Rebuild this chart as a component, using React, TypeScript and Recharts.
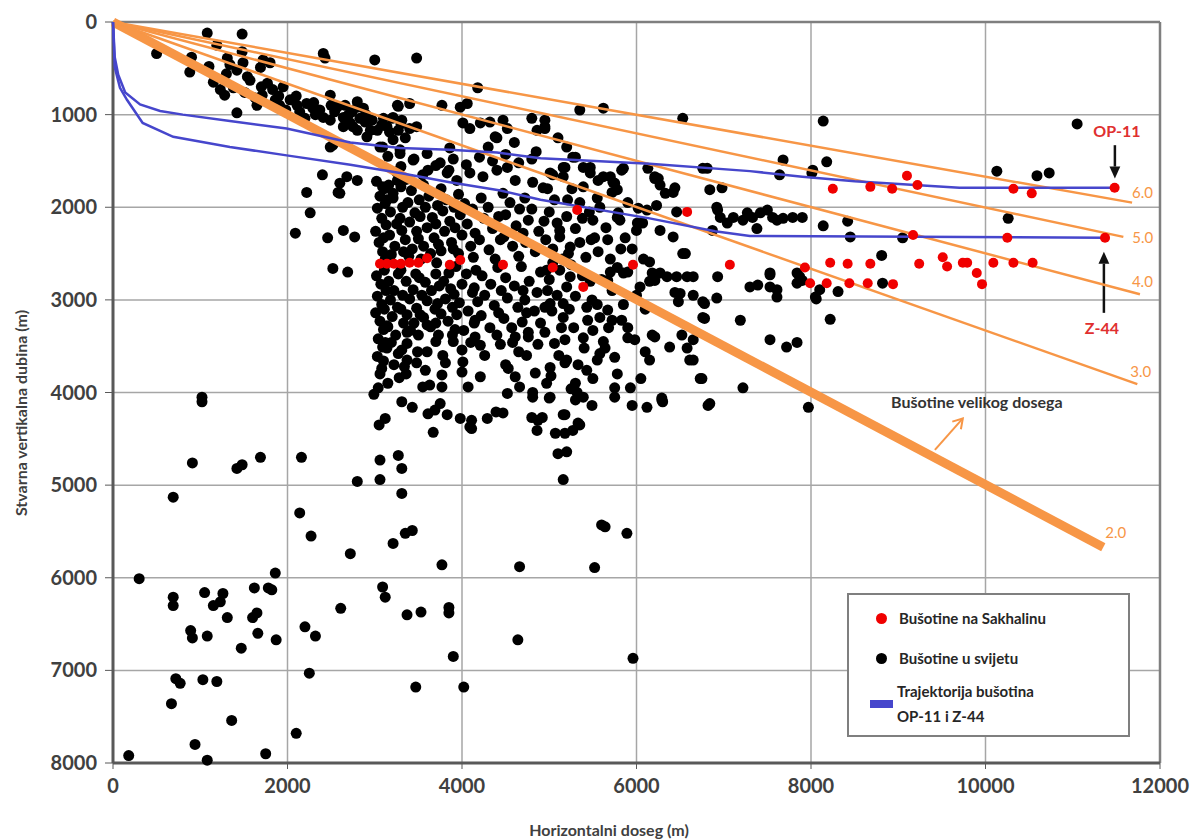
import { CartesianGrid, ReferenceDot, ReferenceLine, Scatter, ScatterChart, XAxis, YAxis } from 'recharts'

const xTicks = [0, 2000, 4000, 6000, 8000, 10000, 12000]
const yTicks = [0, 1000, 2000, 3000, 4000, 5000, 6000, 7000, 8000]

const ratioLabels = ['2.0', '3.0', '4.0', '5.0', '6.0']
const ratioEnds: [number, number][] = [
  [11350, 5670], [11740, 3910], [11770, 2940], [11580, 2320], [11680, 1950]
]

const op11Path: [number, number][] = [
  [0, 0], [20, 380], [60, 570], [140, 760], [310, 890], [540, 960], [800, 1000], [1340, 1070],
  [1990, 1150], [2720, 1300], [3290, 1360], [3860, 1380], [4400, 1410], [4900, 1470], [6150, 1530],
  [7300, 1610], [7900, 1670], [8500, 1720], [9700, 1790], [11480, 1790]
]

const z44Path: [number, number][] = [
  [0, 0], [20, 490], [80, 710], [160, 840], [340, 1090], [690, 1240], [1340, 1350], [1990, 1440],
  [2720, 1540], [3290, 1630], [3860, 1730], [4440, 1820], [4900, 1920], [6150, 2120], [6900, 2260],
  [7300, 2310], [11370, 2330]
]

const sakhalinWells: [number, number][] = [
  [3060, 2610], [3140, 2610], [3220, 2610], [3300, 2610], [3400, 2600], [3500, 2600], [3600, 2550],
  [3860, 2620], [3980, 2570], [4470, 2620], [5040, 2650], [5390, 2860], [5320, 2030], [5960, 2620],
  [6580, 2050], [7070, 2620], [7930, 2650], [7990, 2820], [8180, 2820], [8220, 2600], [8250, 1800],
  [8420, 2610], [8440, 2820], [8650, 2820], [8680, 2610], [8680, 1780], [8930, 1800], [8940, 2830],
  [9100, 1660], [9170, 2300], [9220, 1760], [9240, 2610], [9510, 2540], [9560, 2640], [9740, 2600],
  [9790, 2600], [9900, 2710], [9960, 2830], [10090, 2600], [10250, 2330], [10320, 2600], [10320, 1800],
  [10530, 1850], [10540, 2600], [11370, 2330], [11480, 1790]
]

const worldWells: [number, number][] = [
  [500, 340], [880, 540], [1080, 120], [1480, 130], [1150, 650], [1420, 980], [1650, 900], [1190, 250],
  [1310, 390], [1340, 460], [1420, 520], [1490, 440], [1540, 590], [1570, 630], [1480, 320], [1720, 410],
  [1800, 440], [1690, 490], [1770, 660], [1830, 730], [1950, 700], [2030, 840], [2110, 900], [2220, 880],
  [2290, 930], [2410, 340], [2490, 790], [2570, 920], [2410, 1030], [2490, 1060], [2640, 1030], [2720, 1090],
  [2800, 860], [2870, 930], [2950, 1170], [3030, 1170], [3140, 1130], [3260, 900], [3210, 1030], [3000, 410],
  [2490, 1350], [2640, 1130], [2800, 1170], [3060, 1350], [3210, 1270], [3290, 1420], [2400, 1650], [2220, 1840],
  [2260, 2060], [2600, 1740], [2680, 1670], [2800, 1710], [2600, 1850], [3090, 1780], [3140, 1920], [3210, 1850],
  [3260, 1710], [2430, 390], [2520, 1330], [2090, 2280], [2460, 2330], [2640, 2250], [2770, 2320], [2520, 2660],
  [2690, 2700], [2580, 1840], [1230, 730], [1280, 790], [1380, 710], [1510, 760], [1630, 820], [1710, 790],
  [1860, 840], [1910, 900], [1980, 950], [2140, 970], [2200, 1040], [2320, 1000], [2370, 950], [2540, 970],
  [2660, 900], [2740, 970], [2830, 1040], [2890, 1080], [2970, 1060], [3080, 1110], [3170, 1190], [3270, 1170],
  [3350, 1250], [3400, 1150], [3310, 1060], [3480, 390], [4180, 710], [3400, 880], [3270, 910], [3770, 900],
  [3980, 920], [4060, 880], [4010, 1090], [4090, 1150], [4210, 1090], [4320, 1080], [4470, 1060], [4520, 1150],
  [4380, 1240], [4800, 1040], [4860, 1170], [4950, 1130], [3480, 1130], [3200, 1040], [2800, 920], [2750, 1130],
  [2910, 1240], [3090, 1350], [3290, 1380], [3440, 1490], [3610, 1600], [3750, 1520], [3860, 1360], [3830, 1630],
  [3940, 1710], [4090, 1630], [4240, 1670], [4400, 1600], [4520, 1570], [4610, 1710], [4810, 1730], [5010, 1630],
  [5160, 1570], [5300, 1460], [5470, 1570], [5620, 1670], [5730, 1730], [5780, 1810], [5850, 1580], [6210, 1690],
  [6270, 1760], [6420, 1840], [6840, 1810], [6810, 1580], [6930, 2030], [7110, 2110], [7220, 2140], [6530, 2500],
  [6930, 2750], [7190, 3220], [6480, 3020], [6780, 3040], [6760, 3190], [6180, 3380], [6730, 3850], [6290, 4060],
  [6650, 3430], [6610, 3650], [5350, 950], [5620, 930], [6530, 1040], [7680, 1490], [8020, 1600], [4950, 1060],
  [4950, 1150], [5270, 1460], [5180, 1570], [5160, 1670], [5390, 1570], [5470, 1630], [5560, 1710], [5700, 1670],
  [5750, 1740], [5720, 1840], [5390, 1780], [5040, 1650], [4930, 1790], [5830, 1600], [6130, 1580], [6210, 1670],
  [6250, 1690], [6760, 1580], [7640, 1650], [8010, 1630], [6980, 1790], [6440, 1790], [6330, 1850], [6230, 1980],
  [5210, 1920], [5580, 2000], [5790, 2060], [6020, 2010], [6120, 2030], [6460, 2050], [6920, 2000], [6960, 2110],
  [7040, 2170], [7270, 2060], [7330, 2110], [7380, 2230], [7500, 2030], [7610, 2140], [7790, 2110], [7900, 2110],
  [6870, 2250], [6270, 2250], [6420, 2320], [6010, 2170], [6070, 2170], [5810, 2140], [5780, 2110], [5500, 2140],
  [5380, 2120], [5090, 2170], [5120, 2320], [5240, 2430], [5350, 2380], [5520, 2330], [5670, 2350], [5870, 2330],
  [6560, 2500], [6150, 2590], [6270, 2710], [7530, 2710], [7840, 2710], [5700, 2700], [5040, 2600], [8140, 1070],
  [11050, 1100], [8180, 1510], [10130, 1610], [10590, 1660], [10730, 1630], [8140, 2200], [8420, 2150], [8450, 2320],
  [9050, 2330], [10260, 2120], [8810, 2520], [8820, 2820], [8310, 2910], [8100, 2890], [8060, 2990], [8220, 3210],
  [7900, 2790], [7420, 2060], [7560, 2110], [7680, 2120], [7720, 3510], [7840, 3460], [7300, 2860], [7610, 2890],
  [4970, 2680], [5120, 2680], [5240, 2750], [5200, 2860], [5010, 3040], [5160, 3040], [5160, 3190], [5180, 3430],
  [5390, 3410], [5440, 3220], [5500, 3330], [5580, 3190], [5670, 3110], [5720, 3220], [5830, 3220], [5670, 2790],
  [5850, 2710], [6040, 2860], [6180, 2710], [6210, 2790], [6350, 2750], [6460, 2750], [6580, 2750], [6650, 2750],
  [6440, 2920], [6500, 2930], [6650, 2950], [6760, 3020], [6920, 2980], [7390, 2840], [7530, 2730], [7530, 2860],
  [7610, 2970], [7840, 2820], [7870, 2750], [8050, 2970], [6780, 3200], [5900, 3410], [5980, 3430], [6210, 3400],
  [6100, 3560], [5640, 3520], [5580, 3580], [5750, 3620], [5550, 3650], [5430, 3760], [5200, 3650], [5180, 3680],
  [5300, 3900], [6380, 3510], [6520, 3380], [6580, 3520], [6650, 3650], [6750, 3850], [7530, 3430], [7220, 3950],
  [5930, 3950], [5750, 3950], [5750, 4050], [6290, 4080], [6840, 4120], [5300, 4080], [5390, 4050], [5490, 4140],
  [5320, 4000], [5010, 4050], [5180, 4240], [5330, 4330], [5270, 4410], [5180, 4440], [4920, 4270], [3140, 3520],
  [3080, 3740], [3370, 3350], [3370, 3470], [3600, 3270], [3890, 3380], [3370, 3650], [3480, 3680], [3580, 3760],
  [3550, 3940], [3630, 3920], [3770, 3810], [3810, 3680], [3770, 3940], [4000, 3540], [4010, 3670], [4000, 3780],
  [4210, 3490], [4210, 3830], [4150, 3220], [4070, 3940], [2990, 4020], [3310, 4100], [3430, 4160], [3120, 4280],
  [3050, 4350], [3610, 4230], [3690, 4190], [3750, 4120], [3830, 4240], [3980, 4280], [4110, 4300], [4110, 4390],
  [4290, 4280], [4390, 4210], [4470, 4220], [3270, 4680], [3310, 4820], [2800, 4960], [3060, 4940], [4520, 4010],
  [4530, 3740], [4610, 3830], [4660, 3940], [4810, 4000], [4810, 4050], [4970, 3900], [5000, 4060], [4840, 3790],
  [5010, 3730], [4740, 3600], [4760, 3400], [4610, 3400], [4580, 3460], [4740, 3140], [4800, 4270], [4870, 4300],
  [4950, 3080], [1020, 4100], [1020, 4050], [910, 4760], [690, 5130], [1420, 4820], [1480, 4780], [1690, 4700],
  [2160, 4700], [3060, 4730], [2140, 5300], [2270, 5550], [2720, 5740], [3210, 5630], [300, 6010], [690, 6210],
  [690, 6300], [1050, 6160], [1260, 6170], [1150, 6300], [1230, 6260], [1310, 6430], [1620, 6110], [1780, 6110],
  [1820, 6130], [1860, 5950], [1600, 6430], [1650, 6380], [1660, 6600], [1870, 6670], [890, 6570], [910, 6650],
  [1080, 6630], [1470, 6760], [720, 7090], [770, 7140], [1030, 7100], [1190, 7120], [670, 7360], [1360, 7540],
  [940, 7800], [180, 7920], [1080, 7970], [1750, 7900], [2610, 6330], [2200, 6530], [2320, 6630], [2250, 7030],
  [2100, 7680], [3090, 6100], [3120, 6210], [3370, 6400], [3530, 6370], [3850, 6320], [3850, 6380], [4640, 6670],
  [3900, 6850], [5960, 6870], [3470, 7180], [4020, 7180], [3310, 5090], [3770, 5860], [4660, 5880], [5520, 5890],
  [5600, 5430], [5640, 5450], [5890, 5520], [3350, 5520], [3430, 5490], [5160, 4940], [5100, 4660], [5200, 4640],
  [5070, 4440], [4860, 4410], [5160, 4240], [5350, 4350], [4090, 4370], [3670, 4430], [5950, 4140], [6120, 4160],
  [6300, 4100], [6820, 4140], [7970, 4160],
  [3020, 1720], [3060, 1880], [3030, 2010], [3080, 2120], [3010, 2260], [3050, 2380], [3090, 2480], [3020, 2740],
  [3070, 2830], [3030, 2960], [3080, 3050], [3010, 3140], [3060, 3230], [3100, 3320], [3040, 3420], [3090, 3510],
  [3030, 3610], [3160, 1760], [3210, 1900], [3180, 2050], [3250, 2180], [3170, 2300], [3230, 2420], [3190, 2510],
  [3270, 2720], [3160, 2800], [3220, 2900], [3180, 3000], [3260, 3080], [3200, 3180], [3150, 3290], [3240, 3380],
  [3190, 3460], [3270, 3580], [3220, 3700], [3280, 3840], [3150, 3900], [3360, 1700], [3420, 1820], [3380, 1950],
  [3460, 2060], [3400, 2160], [3480, 2260], [3350, 2350], [3430, 2450], [3390, 2530], [3470, 2720], [3360, 2800],
  [3440, 2890], [3400, 2990], [3480, 3090], [3370, 3160], [3450, 3250], [3410, 3330], [3490, 3560], [3360, 3800],
  [3560, 1760], [3620, 1880], [3580, 2000], [3660, 2110], [3600, 2220], [3680, 2330], [3560, 2420], [3640, 2500],
  [3700, 2720], [3580, 2810], [3650, 2900], [3600, 3010], [3690, 3100], [3560, 3190], [3640, 3290], [3700, 3450],
  [3600, 3560], [3760, 1800], [3820, 1920], [3780, 2040], [3860, 2150], [3800, 2260], [3880, 2380], [3760, 2470],
  [3850, 2710], [3790, 2800], [3870, 2880], [3810, 2990], [3890, 3080], [3760, 3150], [3840, 3230], [3900, 3450],
  [3780, 3600], [3960, 1860], [4030, 1960], [3980, 2080], [4060, 2180], [4000, 2300], [4100, 2420], [3960, 2500],
  [4050, 2720], [4000, 2830], [4120, 2920], [3970, 3030], [4070, 3120], [4140, 3250], [4020, 3330], [4100, 3460],
  [4220, 1900], [4300, 2000], [4250, 2120], [4350, 2230], [4200, 2350], [4310, 2460], [4380, 2560], [4230, 2740],
  [4330, 2830], [4260, 2950], [4370, 3060], [4220, 3170], [4320, 3300], [4400, 3380], [4260, 3600], [4470, 1850],
  [4550, 1950], [4500, 2080], [4620, 2200], [4480, 2320], [4580, 2420], [4650, 2530], [4500, 2760], [4600, 2850],
  [4520, 2980], [4640, 3080], [4480, 3200], [4570, 3300], [4650, 3560], [4500, 3700], [4720, 1900], [4800, 2020],
  [4760, 2140], [4880, 2260], [4730, 2380], [4840, 2480], [4900, 2700], [4770, 2800], [4860, 2920], [4720, 3000],
  [4830, 3120], [4900, 3250], [4760, 3350], [4870, 3480], [4980, 1800], [5060, 1920], [5000, 2050], [5120, 2250],
  [5040, 2450], [5150, 2560], [5000, 2780], [5090, 2950], [5030, 3120], [5140, 3300], [5060, 3470], [5110, 3600],
  [5020, 3820], [5260, 1800], [5350, 1950], [5300, 2230], [5420, 2540], [5250, 2620], [5380, 2740], [5300, 2960],
  [5430, 3080], [5280, 3300], [5400, 3520], [5330, 3700], [5250, 3960], [5550, 1900], [5650, 2220], [5560, 2480],
  [5700, 2560], [5600, 2780], [5720, 2900], [5550, 3050], [5680, 3300], [5620, 3450], [5780, 3800], [5500, 3850],
  [5900, 1950], [6000, 2250], [5950, 2450], [6080, 2560], [5900, 2700], [6150, 2800], [6000, 2950], [6100, 3100],
  [5900, 3300], [6150, 3650], [6050, 3850], [3150, 1450], [3300, 1560], [3450, 1480], [3600, 1420], [3700, 1550],
  [3900, 1480], [4050, 1540], [4200, 1460], [4350, 1500], [4500, 1430], [4650, 1520], [4800, 1480], [3250, 1620],
  [3550, 1650], [3850, 1600], [4300, 1350], [4600, 1300], [4850, 1400], [5100, 1250], [5200, 1350], [4400, 1250],
  [3110, 1800], [3120, 1960], [3130, 2190], [3100, 2330], [3120, 2560], [3110, 2680], [3130, 2900], [3110, 3100],
  [3140, 3280], [3120, 3460], [3100, 3660], [3060, 3800], [3040, 3950], [3300, 1780], [3320, 2000], [3290, 2120],
  [3310, 2250], [3330, 2480], [3300, 2680], [3320, 2950], [3300, 3100], [3330, 3250], [3310, 3540], [3340, 3720],
  [3510, 1920], [3520, 2100], [3500, 2340], [3530, 2560], [3510, 2760], [3540, 2950], [3520, 3160], [3500, 3380],
  [3720, 1980], [3700, 2180], [3730, 2400], [3710, 2600], [3740, 2850], [3720, 3040], [3700, 3250], [3730, 3380],
  [3910, 2000], [3920, 2220], [3900, 2450], [3930, 2640], [3910, 2940], [3940, 3160], [3920, 3320], [4120, 2020],
  [4150, 2280], [4130, 2540], [4160, 2680], [4140, 2870], [4180, 3020], [4150, 3400], [4420, 2100], [4440, 2350],
  [4410, 2650], [4450, 2900], [4420, 3140], [4440, 3480], [4660, 2020], [4700, 2280], [4680, 2640], [4700, 2900],
  [4690, 3240], [4940, 2150], [4960, 2350], [4980, 2900], [4950, 3350], [5200, 2100], [5220, 2500], [5230, 3100],
  [5460, 2050], [5480, 2350], [5470, 2800], [5490, 3000], [5820, 2450], [5780, 2650], [5850, 3050], [1700, 700],
  [1900, 800], [2100, 800], [2300, 870], [2500, 900], [2700, 1000], [2900, 1000], [3100, 1040], [3300, 1100],
  [1300, 560], [1100, 480], [900, 380]
]

const ORANGE = '#f79646'
const BLUE = '#4646cc'
const RED = '#f00000'
const TEXT = '#404040'

const toPts = (arr: [number, number][]) => arr.map(([x, y]) => ({ x, y }))

const dot = (fill: string, r: number) => (p: any) => <circle cx={p.cx} cy={p.cy} r={r} fill={fill} />
const noDot = () => <g />

// offsets of the ratio labels from the end of each line
const ratioLabelOffsets: [number, number][] = [[2, -9], [-7, -7], [-8, -7], [9, 6], [0, -5]]

const textAt = (text: string, dx: number, dy: number, style: any) => (p: any) => (
  <text x={p.cx + dx} y={p.cy + dy} {...style}>{text}</text>
)

const solidArrow = (color: string, width: number, head: number) => (p: any) => {
  const { x1, y1, x2, y2 } = p
  const a = Math.atan2(y2 - y1, x2 - x1)
  const bx = x2 - head * Math.cos(a)
  const by = y2 - head * Math.sin(a)
  const ox = -Math.sin(a) * head * 0.45
  const oy = Math.cos(a) * head * 0.45
  return (
    <g>
      <line x1={x1} y1={y1} x2={bx} y2={by} stroke={color} strokeWidth={width} />
      <polygon points={`${x2},${y2} ${bx + ox},${by + oy} ${bx - ox},${by - oy}`} fill={color} />
    </g>
  )
}

const openArrow = (color: string, width: number, head: number) => (p: any) => {
  const { x1, y1, x2, y2 } = p
  const a = Math.atan2(y2 - y1, x2 - x1)
  const l = a + Math.PI - 0.55
  const r = a + Math.PI + 0.55
  return (
    <g stroke={color} strokeWidth={width} fill="none">
      <line x1={x1} y1={y1} x2={x2} y2={y2} />
      <polyline points={`${x2 + head * Math.cos(l)},${y2 + head * Math.sin(l)} ${x2},${y2} ${x2 + head * Math.cos(r)},${y2 + head * Math.sin(r)}`} />
    </g>
  )
}

const tickStyle = { fill: TEXT, fontSize: 20, fontWeight: 700, fontFamily: 'Lato' }

const App = () => {
  return (
    <div style={{ position: 'absolute', left: 0, top: 0, width: 1197, height: 839, background: '#fff', fontFamily: 'Lato' }}>
      <ScatterChart width={1197} height={839} margin={{ top: 22, right: 37, bottom: 36, left: 33 }}>
        <CartesianGrid stroke="#a6a6a6" strokeWidth={1.5} />
        <XAxis
          type="number"
          dataKey="x"
          domain={[0, 12000]}
          ticks={xTicks}
          interval={0}
          height={40}
          tick={tickStyle}
          tickSize={6}
          tickMargin={10}
          tickLine={{ stroke: '#595959' }}
          axisLine={{ stroke: '#595959', strokeWidth: 3 }}
        />
        <YAxis
          type="number"
          dataKey="y"
          reversed
          domain={[0, 8000]}
          ticks={yTicks}
          interval={0}
          width={80}
          tick={tickStyle}
          tickSize={8}
          tickMargin={8}
          tickLine={{ stroke: '#595959' }}
          axisLine={{ stroke: '#595959', strokeWidth: 3 }}
        />
        <ReferenceLine y={0} stroke="#7f7f7f" strokeWidth={2.5} />
        <ReferenceLine x={12000} stroke="#7f7f7f" strokeWidth={2.5} />

        <Scatter data={toPts(worldWells)} fill="#000" shape={dot('#000', 5.5)} isAnimationActive={false} />
        {ratioEnds.map((end, i) => (
          <Scatter
            key={ratioLabels[i]}
            data={toPts([[0, 0], end])}
            fill={ORANGE}
            line={{ stroke: ORANGE, strokeWidth: i === 0 ? 9 : 2.5 }}
            shape={noDot}
            isAnimationActive={false}
          />
        ))}
        <Scatter data={toPts(op11Path)} fill={BLUE} line={{ stroke: BLUE, strokeWidth: 2.5 }} shape={noDot} isAnimationActive={false} />
        <Scatter data={toPts(z44Path)} fill={BLUE} line={{ stroke: BLUE, strokeWidth: 2.5 }} shape={noDot} isAnimationActive={false} />
        <Scatter data={toPts(sakhalinWells)} fill={RED} shape={dot(RED, 5)} isAnimationActive={false} />

        {ratioEnds.map((end, i) => (
          <ReferenceDot
            key={'l' + ratioLabels[i]}
            x={end[0]}
            y={end[1]}
            r={0}
            shape={textAt(ratioLabels[i], ratioLabelOffsets[i][0], ratioLabelOffsets[i][1], { fill: ORANGE, fontSize: 15, fontFamily: 'Lato' })}
          />
        ))}

        <ReferenceLine segment={[{ x: 9420, y: 4620 }, { x: 9740, y: 4280 }]} shape={openArrow(ORANGE, 2, 11)} />
        <ReferenceDot x={9740} y={4280} r={0} shape={textAt('Bušotine velikog dosega', 14, -10, { fill: '#333', fontSize: 16, fontWeight: 700, fontFamily: 'Lato', textAnchor: 'middle' })} />

        <ReferenceLine segment={[{ x: 11483, y: 1330 }, { x: 11483, y: 1690 }]} shape={solidArrow('#111', 2.5, 12)} />
        <ReferenceDot x={11483} y={1330} r={0} shape={textAt('OP-11', 2, -8, { fill: '#e03030', fontSize: 16, fontWeight: 700, fontFamily: 'Lato', textAnchor: 'middle' })} />
        <ReferenceLine segment={[{ x: 11357, y: 3140 }, { x: 11357, y: 2480 }]} shape={solidArrow('#111', 2.5, 12)} />
        <ReferenceDot x={11357} y={3140} r={0} shape={textAt('Z-44', -2, 21, { fill: '#e03030', fontSize: 16, fontWeight: 700, fontFamily: 'Lato', textAnchor: 'middle' })} />
      </ScatterChart>

      <div style={{ position: 'absolute', left: 609, top: 829, transform: 'translate(-50%, -50%)', fontSize: 16, fontWeight: 700, color: TEXT, whiteSpace: 'nowrap' }}>
        Horizontalni doseg (m)
      </div>
      <div style={{ position: 'absolute', left: 20, top: 413, transform: 'translate(-50%, -50%) rotate(-90deg)', fontSize: 16, fontWeight: 700, color: TEXT, whiteSpace: 'nowrap' }}>
        Stvarna vertikalna dubina (m)
      </div>

      <div style={{ position: 'absolute', left: 847, top: 593, width: 283, height: 144, boxSizing: 'border-box', border: '2px solid #7f7f7f', background: '#fff' }} />
      <div style={{ position: 'absolute', left: 876, top: 613, width: 11, height: 11, borderRadius: '50%', background: RED }} />
      <div style={{ position: 'absolute', left: 899, top: 618, transform: 'translateY(-50%)', fontSize: 15, fontWeight: 700, color: '#262626', whiteSpace: 'nowrap' }}>
        Bušotine na Sakhalinu
      </div>
      <div style={{ position: 'absolute', left: 876, top: 653, width: 11, height: 11, borderRadius: '50%', background: '#000' }} />
      <div style={{ position: 'absolute', left: 899, top: 658, transform: 'translateY(-50%)', fontSize: 15, fontWeight: 700, color: '#262626', whiteSpace: 'nowrap' }}>
        Bušotine u svijetu
      </div>
      <div style={{ position: 'absolute', left: 870, top: 700, width: 23, height: 8, background: BLUE }} />
      <div style={{ position: 'absolute', left: 897, top: 704, transform: 'translateY(-50%)', fontSize: 15, fontWeight: 700, color: '#262626', whiteSpace: 'nowrap', lineHeight: '25px' }}>
        Trajektorija bušotina<br />OP-11 i Z-44
      </div>
    </div>
  )
}

export default App
